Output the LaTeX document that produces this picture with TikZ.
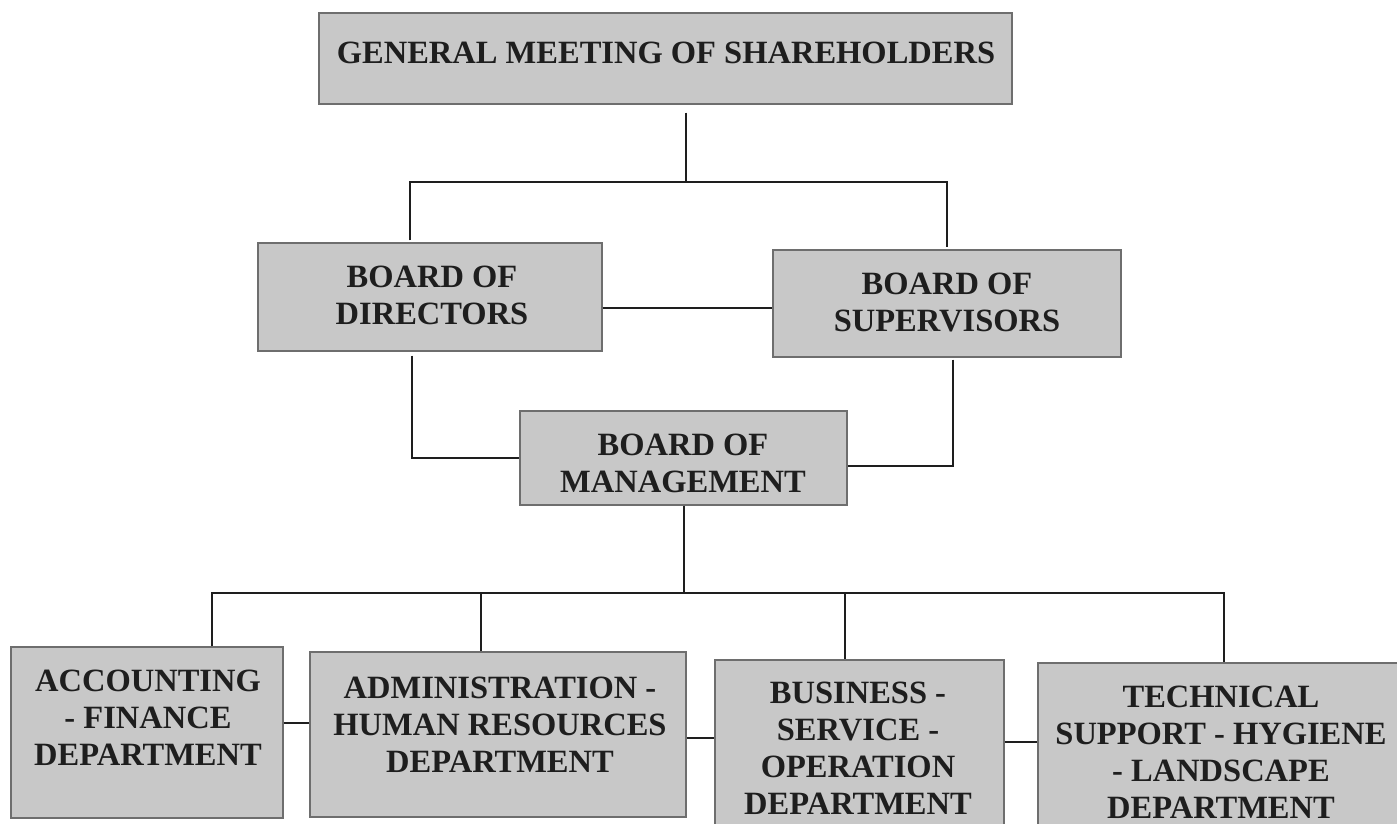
\documentclass[tikz,border=0pt]{standalone}
\usepackage{fontspec}
\setmainfont{Liberation Serif}
\definecolor{boxgray}{RGB}{200,200,200}
\definecolor{edgegray}{RGB}{110,110,110}
\definecolor{inkblack}{RGB}{30,30,30}
\begin{document}
\begin{tikzpicture}[x=1pt,y=-1pt,
  orgbox/.style={draw=edgegray, line width=1.3pt, fill=boxgray, rectangle, inner sep=0pt},
  orgtext/.style={align=center, text=inkblack, inner sep=0pt, font=\fontsize{32.5}{37}\selectfont\bfseries},
  link/.style={draw=inkblack, line width=1.9pt}]
\useasboundingbox (0,0) rectangle (1397,823);
% boxes (x1,y1)-(x2,y2) in pixel coordinates
\node[orgbox, minimum width=693pt, minimum height=91pt] (top) at (665.5,58.5) {};
\node[orgbox, minimum width=344pt, minimum height=108pt] (dir) at (430,297) {};
\node[orgbox, minimum width=348pt, minimum height=107pt] (sup) at (947,303.5) {};
\node[orgbox, minimum width=327pt, minimum height=94pt] (mgmt) at (683.5,458) {};
\node[orgbox, minimum width=272pt, minimum height=171pt] (acc) at (147,732.5) {};
\node[orgbox, minimum width=376pt, minimum height=165pt] (adm) at (498,734.5) {};
\node[orgbox, minimum width=289pt, minimum height=170pt] (bus) at (859.5,745) {};
\node[orgbox, minimum width=372pt, minimum height=167pt] (tech) at (1224,746.5) {};
% texts
\node[orgtext] (ttop) at (666,53) {GENERAL MEETING OF SHAREHOLDERS};
\node[orgtext] (tdir) at (432,295) {BOARD OF\\DIRECTORS};
\node[orgtext] (tsup) at (947,302) {BOARD OF\\SUPERVISORS};
\node[orgtext] (tmgmt) at (683,463) {BOARD OF\\MANAGEMENT};
\node[orgtext] (tacc) at (148,718) {ACCOUNTING\\- FINANCE\\DEPARTMENT};
\node[orgtext] (tadm) at (500,725) {ADMINISTRATION -\\HUMAN RESOURCES\\DEPARTMENT};
\node[orgtext] (tbus) at (858,748) {BUSINESS -\\SERVICE -\\OPERATION\\DEPARTMENT};
\node[orgtext] (ttech) at (1221,752) {TECHNICAL\\SUPPORT - HYGIENE\\- LANDSCAPE\\DEPARTMENT};
% junction coordinates
\coordinate (t1) at (686,182);
\coordinate (l1) at (410,182);
\coordinate (r1) at (947,182);
\coordinate (l2) at (412,458);
\coordinate (r2) at (953,466);
\coordinate (b1) at (684,593);
\coordinate (b0) at (212,593);
\coordinate (b2a) at (481,593);
\coordinate (b2b) at (845,593);
\coordinate (b3) at (1224,593);
% connectors
\draw[link] ([yshift=-8pt]top.south -| t1) -- (t1);
\draw[link] ([yshift=2pt]dir.north -| l1) -- (l1) -- (r1) -- ([yshift=2pt]sup.north -| r1);
\draw[link] ([yshift=-11pt]dir.east) -- ([yshift=-11pt]dir.east -| sup.west);
\draw[link] ([yshift=-4pt]dir.south -| l2) -- (l2) -- (l2 -| mgmt.west);
\draw[link] ([yshift=-2pt]sup.south -| r2) -- (r2) -- (r2 -| mgmt.east);
\draw[link] (mgmt.south -| b1) -- (b1);
\draw[link] (acc.north -| b0) -- (b0) -- (b3) -- (tech.north -| b3);
\draw[link] (b2a) -- (b2a |- adm.north);
\draw[link] (b2b) -- (b2b |- bus.north);
\draw[link] ([yshift=9.5pt]acc.east) -- ([yshift=9.5pt]acc.east -| adm.west);
\draw[link] ([yshift=-3.5pt]adm.east) -- ([yshift=-3.5pt]adm.east -| bus.west);
\draw[link] ([yshift=3pt]bus.east) -- ([yshift=3pt]bus.east -| tech.west);
\end{tikzpicture}
\end{document}
